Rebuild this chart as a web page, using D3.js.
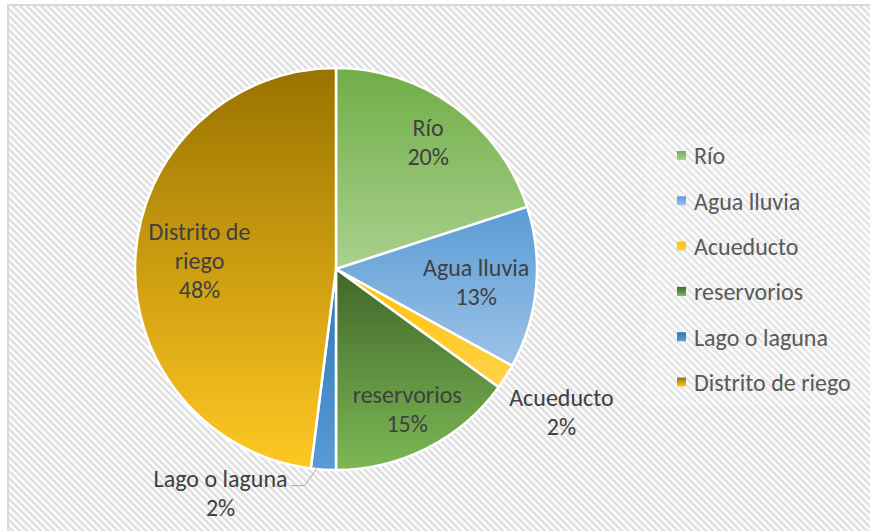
<!DOCTYPE html>
<html>
<head>
<meta charset="utf-8">
<script src="https://cdn.jsdelivr.net/npm/d3@7"></script>
<style>
  html, body { margin: 0; padding: 0; background: #ffffff; }
  svg { display: block; font-family: Carlito, Lato, "Open Sans", sans-serif; }
</style>
</head>
<body>
<svg id="chart" width="870" height="531"></svg>
<script>
// Fuentes de agua (porcentaje de uso)
const categories = ["Río", "Agua lluvia", "Acueducto", "reservorios", "Lago o laguna", "Distrito de riego"];
const values = [20, 13, 2, 15, 2, 48];
// Gradient stops per slice: [top, bottom]
const colorsTop = ["#70ad47", "#5b9bd5", "#ffc000", "#41662a", "#2e75b6", "#997300"];
const colorsBottom = ["#a9d18e", "#9dc3e6", "#ffd34d", "#7cb854", "#5b9bd5", "#ffc822"];
// Category text as it is broken over lines in the data labels
const labelLines = [["Río"], ["Agua lluvia"], ["Acueducto"], ["reservorios"], ["Lago o laguna"], ["Distrito de", "riego"]];

const data = categories.map((c, i) => ({ name: c, value: values[i], idx: i }));

const svg = d3.select("#chart");
const W = 870, H = 531;
const defs = svg.append("defs");

// Diagonal striped chart background
const pat = defs.append("pattern")
  .attr("id", "stripes")
  .attr("patternUnits", "userSpaceOnUse")
  .attr("width", 7).attr("height", 7);
pat.append("rect").attr("width", 7).attr("height", 7).attr("fill", "#ffffff");
pat.append("path")
  .attr("d", "M-2,-2 L9,9 M-9,-2 L2,9 M5,-2 L16,9")
  .attr("stroke", "#e1e1e1").attr("stroke-width", 2.8);

data.forEach((d, i) => {
  const g = defs.append("linearGradient")
    .attr("id", "grad" + i)
    .attr("x1", 0).attr("y1", 0).attr("x2", 0).attr("y2", 1);
  g.append("stop").attr("offset", "0%").attr("stop-color", colorsTop[i]);
  g.append("stop").attr("offset", "100%").attr("stop-color", colorsBottom[i]);
});

svg.append("rect")
  .attr("x", 8).attr("y", 5).attr("width", W).attr("height", H)
  .attr("fill", "url(#stripes)")
  .attr("stroke", "#d9d9d9").attr("stroke-width", 2);

// Legend backdrop
svg.append("rect")
  .attr("x", 645).attr("y", 133).attr("width", 225).attr("height", 272)
  .attr("fill", "#ffffff").attr("opacity", 0.18);

// Pie
const cx = 336, cy = 269, r = 201;
const pie = d3.pie().value(d => d.value).sort(null);
const arcs = pie(data);
const arc = d3.arc().innerRadius(0).outerRadius(r);

const gPie = svg.append("g").attr("transform", `translate(${cx},${cy})`);

gPie.selectAll("path.slice")
  .data(arcs)
  .join("path")
  .attr("class", "slice")
  .attr("d", arc)
  .attr("fill", d => `url(#grad${d.data.idx})`)
  .attr("stroke", "#ffffff")
  .attr("stroke-width", 2.5)
  .attr("stroke-linejoin", "round");

const fontSize = 24, lineH = 29, textColor = "#404040";

// Multi-line label centred on (0,0)
function makeLabel(lines) {
  const g = gPie.append("g");
  const t = g.append("text")
    .attr("text-anchor", "middle")
    .attr("font-size", fontSize)
    .attr("fill", textColor);
  const n = lines.length;
  lines.forEach((ln, k) => {
    t.append("tspan")
      .attr("x", 0)
      .attr("y", (k - (n - 1) / 2) * lineH)
      .attr("dy", "0.35em")
      .text(ln);
  });
  return g;
}

arcs.forEach(a => {
  const i = a.data.idx;
  const lines = labelLines[i].concat([a.data.value + "%"]);
  const mid = (a.startAngle + a.endAngle) / 2;
  const ux = Math.sin(mid), uy = -Math.cos(mid);
  const g = makeLabel(lines);
  const small = a.data.value < 5;
  if (!small) {
    // push the label outward along the bisector while every text line still fits inside the circle
    const n = lines.length;
    const boxes = g.selectAll("tspan").nodes().map((node, k) => ({
      hw: node.getComputedTextLength() / 2,
      yc: (k - (n - 1) / 2) * lineH,
      hh: 10
    }));
    const limit = r - 7;
    const fits = p => boxes.every(b =>
      [[-b.hw, b.yc - b.hh], [b.hw, b.yc - b.hh], [-b.hw, b.yc + b.hh], [b.hw, b.yc + b.hh]]
        .every(([dx, dy]) => Math.hypot(ux * p + dx, uy * p + dy) <= limit));
    let rho = r * 0.78;
    while (rho > 0 && !fits(rho)) rho -= 1;
    g.attr("transform", `translate(${ux * rho},${uy * rho})`);
  } else if (mid < Math.PI) {
    // outside label on the slice bisector
    const rr = r + 66;
    g.attr("transform", `translate(${ux * rr},${uy * rr})`);
  } else {
    // outside label with leader line
    const sx = ux * (r - 2) - 6, sy = uy * (r - 2);
    const ex = sx - 13, ey = sy + 18;
    const hx = ex - 13;
    gPie.append("path")
      .attr("d", `M${sx},${sy} L${ex},${ey} L${hx},${ey}`)
      .attr("fill", "none")
      .attr("stroke", "#a6a6a6")
      .attr("stroke-width", 1);
    const bb = g.node().getBBox();
    g.attr("transform", `translate(${hx - 4 - bb.width / 2},${ey + 7})`);
  }
});

// Legend
const legend = svg.append("g").attr("transform", "translate(677,156)");
const rowH = 45.3;
const items = legend.selectAll("g.item")
  .data(data)
  .join("g")
  .attr("class", "item")
  .attr("transform", (d, i) => `translate(0,${i * rowH})`);
items.append("rect")
  .attr("x", 0).attr("y", -5).attr("width", 9).attr("height", 9)
  .attr("fill", d => `url(#grad${d.idx})`);
items.append("text")
  .attr("x", 17).attr("y", 0).attr("dy", "0.35em")
  .attr("font-size", fontSize)
  .attr("fill", "#595959")
  .text(d => d.name);
</script>
</body>
</html>
